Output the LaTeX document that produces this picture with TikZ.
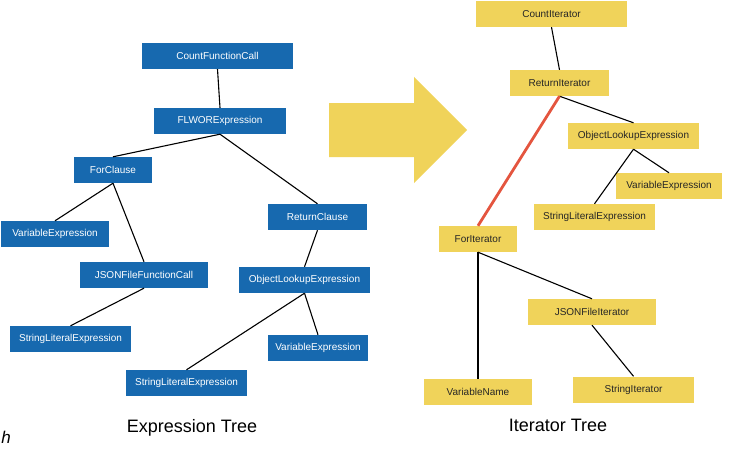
\documentclass[tikz,border=0pt]{standalone}
\usepackage{fontspec}
\setmainfont{Liberation Sans}
\usepackage{xcolor}
\definecolor{exprblue}{HTML}{1769AF}
\definecolor{iteryellow}{HTML}{F0D35A}
\definecolor{hotred}{HTML}{E4553F}
\tikzset{
  treebox/.style={rectangle,inner sep=0pt,minimum height=26pt,font=\fontsize{10}{12}\selectfont},
  exprbox/.style={treebox,fill=exprblue,text=white},
  iterbox/.style={treebox,fill=iteryellow,text=black!85},
  link/.style={draw=black,line width=1.1pt},
  hotlink/.style={draw=hotred,line width=2.8pt},
  treetitle/.style={font=\fontsize{18}{21}\selectfont}
}

\begin{document}
\begin{tikzpicture}[x=1pt,y=-1pt]
	\useasboundingbox (0,0) rectangle (734,452);

	% the expression tree
	\node[exprbox,minimum width=151pt] (cfc) at (217.5,56) {CountFunctionCall};
	\node[exprbox,minimum width=132pt] (flwor) at (220,121) {FLWORExpression};
	\node[exprbox,minimum width=78pt] (forcl) at (113,170) {ForClause};
	\node[exprbox,minimum width=99pt] (retcl) at (317.5,217) {ReturnClause};
	\node[exprbox,minimum width=108pt] (varl) at (55,234) {VariableExpression};
	\node[exprbox,minimum width=128pt] (jsonfc) at (144,275) {JSONFileFunctionCall};
	\node[exprbox,minimum width=131pt] (objl) at (304.5,280) {ObjectLookupExpression};
	\node[exprbox,minimum width=121pt] (strl) at (70.5,339) {StringLiteralExpression};
	\node[exprbox,minimum width=100pt] (varm) at (318,348) {VariableExpression};
	\node[exprbox,minimum width=121pt] (strm) at (186.5,383) {StringLiteralExpression};

	\foreach \From/\To in {cfc/flwor,flwor/forcl,flwor/retcl,forcl/varl,forcl/jsonfc,%
	  jsonfc/strl,retcl/objl,objl/strm,objl/varm}
	  \draw[link] (\From.south) -- (\To.north);

	% the big arrow
	\fill[iteryellow] (329,103) -- (414,103) -- (414,77) -- (467,130)
	  -- (414,183) -- (414,157) -- (329,157) -- cycle;

	% the iterator tree
	\node[iterbox,minimum width=151pt] (cntit) at (551.5,14) {CountIterator};
	\node[iterbox,minimum width=99pt] (retit) at (559.5,83) {ReturnIterator};
	\node[iterbox,minimum width=131pt] (objr) at (633.5,136) {ObjectLookupExpression};
	\node[iterbox,minimum width=106pt] (varr) at (669,186) {VariableExpression};
	\node[iterbox,minimum width=121pt] (strr) at (594.5,217) {StringLiteralExpression};
	\node[iterbox,minimum width=78pt] (forit) at (478,239) {ForIterator};
	\node[iterbox,minimum width=128pt] (jsonit) at (592,312) {JSONFileIterator};
	\node[iterbox,minimum width=108pt] (varname) at (478,392) {VariableName};
	\node[iterbox,minimum width=121pt] (strit) at (633.5,389.5) {StringIterator};

	\foreach \From/\To in {cntit/retit,retit/objr,objr/strr,objr/varr,%
	  forit/varname,forit/jsonit,jsonit/strit}
	  \draw[link] (\From.south) -- (\To.north);
	\draw[hotlink] (retit.south) -- (forit.north);

	% titles
	\node[treetitle] (exprtitle) at (192,428) {Expression Tree};
	\node[treetitle] (itertitle) at (558,425) {Iterator Tree};
	\node[font=\fontsize{17}{20}\selectfont\itshape] (hmark) at (6,437) {h};
\end{tikzpicture}
\end{document}
